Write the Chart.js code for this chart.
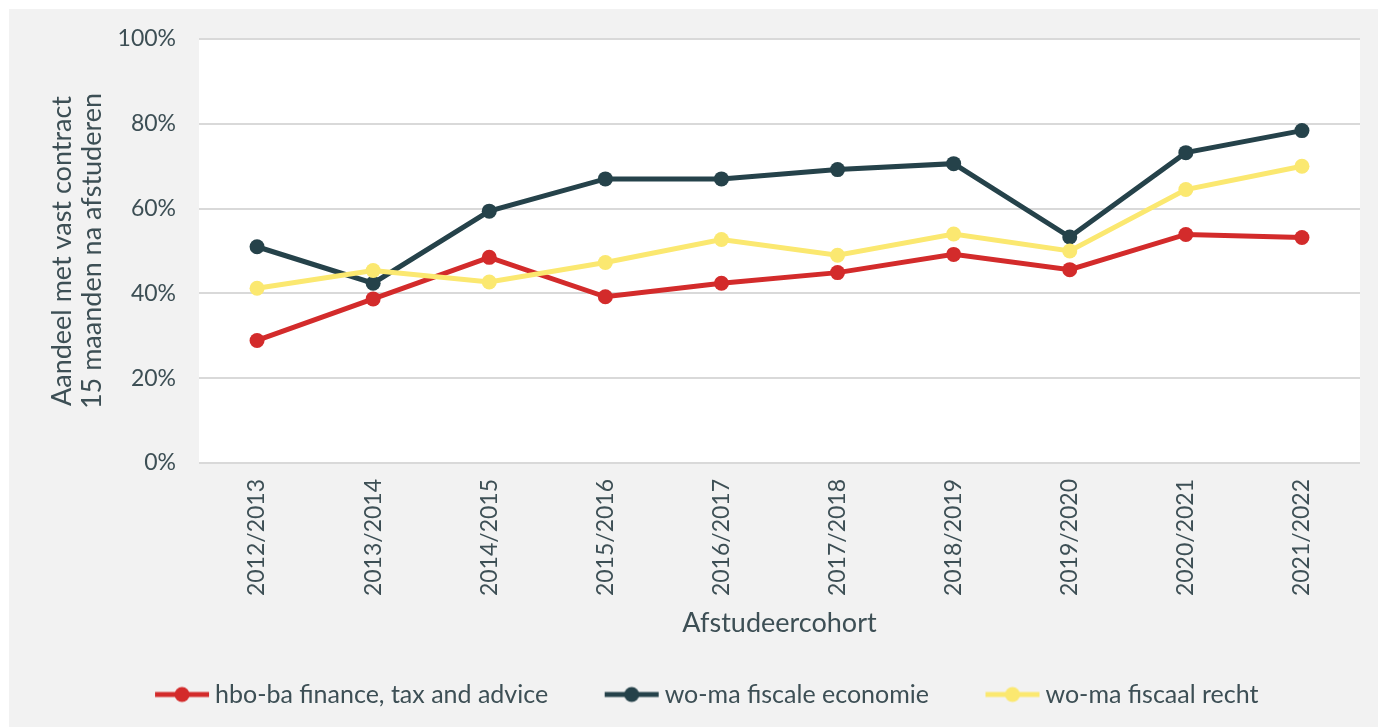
<!DOCTYPE html>
<html lang="nl">
<head>
<meta charset="utf-8">
<title>Aandeel met vast contract</title>
<script src="https://cdn.jsdelivr.net/npm/chart.js@4/dist/chart.umd.min.js"></script>
<style>
	html, body { margin: 0; padding: 0; background: #fff; }
	#kader {
		position: absolute;
		left: 9px;
		top: 9px;
		width: 1369px;
		height: 718px;
		background: #f2f2f2;
	}
</style>
</head>
<body>
<div id="kader"><canvas id="graficoVastContract"></canvas></div>
<script>
var cohorten = ['2012/2013', '2013/2014', '2014/2015', '2015/2016', '2016/2017',
	'2017/2018', '2018/2019', '2019/2020', '2020/2021', '2021/2022'];

var hboFinance = [28.9, 38.7, 48.5, 39.2, 42.4, 44.9, 49.2, 45.6, 53.9, 53.2];
var woFiscaleEconomie = [51.0, 42.4, 59.4, 67.0, 67.0, 69.2, 70.6, 53.3, 73.2, 78.4];
var woFiscaalRecht = [41.2, 45.4, 42.7, 47.3, 52.7, 49.0, 54.0, 50.0, 64.5, 70.0];

var yTicks = [0, 20, 40, 60, 80, 100];

var tekstKleur = '#3d4f55';
var lettertype = 'Lato, "Open Sans", sans-serif';

// legenda-symbool: lijntje met bolletje, zoals in Excel
function legendaSymbool(kleur) {
	var c = document.createElement('canvas');
	c.width = 56;
	c.height = 18;
	var ctx = c.getContext('2d');
	ctx.strokeStyle = kleur;
	ctx.lineWidth = 5;
	ctx.beginPath();
	ctx.moveTo(1, 9);
	ctx.lineTo(55, 9);
	ctx.stroke();
	ctx.fillStyle = kleur;
	ctx.beginPath();
	ctx.arc(28, 9, 7.5, 0, Math.PI * 2);
	ctx.fill();
	return c;
}

function lijn(label, data, kleur, volgorde) {
	return {
		label: label,
		data: data,
		borderColor: kleur,
		backgroundColor: kleur,
		pointBackgroundColor: kleur,
		pointBorderWidth: 0,
		pointRadius: 7.5,
		pointHoverRadius: 7.5,
		borderWidth: 5,
		tension: 0,
		order: volgorde,
		symbool: legendaSymbool(kleur)
	};
}

var witPlotvlak = {
	id: 'witPlotvlak',
	beforeDraw: function(chart) {
		var a = chart.chartArea;
		chart.ctx.save();
		chart.ctx.fillStyle = '#ffffff';
		chart.ctx.fillRect(a.left, a.top, a.right - a.left, a.bottom - a.top);
		chart.ctx.restore();
	}
};

var ctx = document.getElementById('graficoVastContract').getContext('2d');

var grafiek = new Chart(ctx, {
	type: 'line',
	data: {
		labels: cohorten,
		datasets: [
			lijn('hbo-ba finance, tax and advice', hboFinance, '#d32b2b', 3),
			lijn('wo-ma fiscale economie', woFiscaleEconomie, '#25424a', 2),
			lijn('wo-ma fiscaal recht', woFiscaalRecht, '#fbe870', 1)
		]
	},
	options: {
		responsive: true,
		maintainAspectRatio: false,
		animation: false,
		layout: {
			padding: { top: 30, left: 51, right: 18, bottom: 10 }
		},
		plugins: {
			tooltip: { enabled: false },
			legend: {
				position: 'bottom',
				maxHeight: 98,
				labels: {
					usePointStyle: true,
					pointStyleWidth: 41,
					padding: 63,
					color: tekstKleur,
					font: { family: lettertype, size: 25 },
					generateLabels: function(chart) {
						return chart.data.datasets.map(function(ds, i) {
							return {
								text: ds.label,
								fillStyle: ds.borderColor,
								strokeStyle: ds.borderColor,
								fontColor: tekstKleur,
								lineWidth: 0,
								pointStyle: ds.symbool,
								hidden: false,
								datasetIndex: i
							};
						});
					}
				}
			}
		},
		scales: {
			x: {
				offset: true,
				grid: { display: false, drawTicks: false },
				border: { display: false },
				ticks: {
					minRotation: 90,
					maxRotation: 90,
					padding: 16,
					color: tekstKleur,
					font: { family: lettertype, size: 23 }
				},
				title: {
					display: true,
					text: 'Afstudeercohort',
					color: tekstKleur,
					padding: { top: 0, bottom: -20 },
					font: { family: lettertype, size: 27 }
				},
				afterFit: function(schaal) { schaal.height = 156; }
			},
			y: {
				min: 0,
				max: 100,
				// onzichtbare tick-streepjes geven de afstand tot de labels
				grid: { color: '#d9d9d9', lineWidth: 2, drawTicks: true, tickLength: 13, tickColor: 'rgba(0,0,0,0)' },
				border: { display: false },
				afterBuildTicks: function(schaal) {
					schaal.ticks = yTicks.map(function(v) { return { value: v }; });
				},
				ticks: {
					padding: 10,
					color: tekstKleur,
					font: { family: lettertype, size: 23 },
					callback: function(v) { return v + '%'; }
				},
				title: {
					display: true,
					text: ['Aandeel met vast contract', '15 maanden na afstuderen'],
					color: tekstKleur,
					padding: { top: -13, bottom: 0 },
					font: { family: lettertype, size: 27, lineHeight: 1.11 }
				},
				afterFit: function(schaal) { schaal.width = 139; }
			}
		}
	},
	plugins: [witPlotvlak]
});
</script>
</body>
</html>
